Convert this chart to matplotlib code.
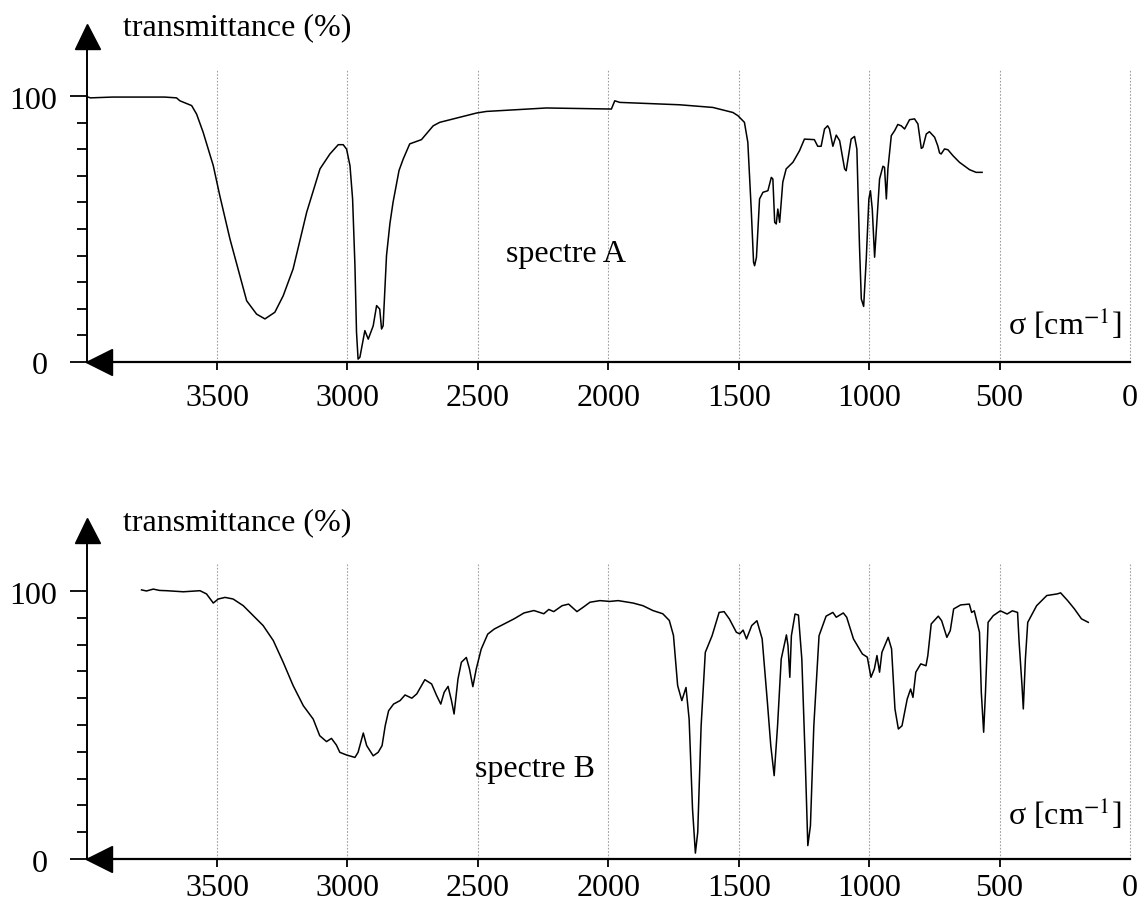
import matplotlib
matplotlib.use("Agg")
import matplotlib.pyplot as plt

plt.rcParams['font.family'] = ['Liberation Serif', 'DejaVu Serif']
plt.rcParams['mathtext.fontset'] = 'stix'

# spectre A : nombre d'onde (cm-1), transmittance (%)
wn_a = [4000, 3985, 3900, 3800, 3700, 3655, 3642, 3597, 3578, 3553, 3514, 3489, 3450,
        3412, 3386, 3348, 3316, 3278, 3246, 3208, 3156, 3105, 3067, 3035, 3016, 3003,
        2990, 2980, 2971, 2965, 2959, 2952, 2933, 2920, 2901, 2888, 2876, 2869, 2863,
        2850, 2837, 2825, 2802, 2786, 2761, 2716, 2671, 2646, 2505, 2467, 2237, 2007,
        1988, 1975, 1956, 1854, 1726, 1599, 1522, 1503, 1484, 1478, 1465, 1452, 1443,
        1439, 1432, 1420, 1407, 1388, 1375, 1369, 1362, 1356, 1350, 1343, 1331, 1318,
        1292, 1267, 1248, 1210, 1197, 1184, 1171, 1159, 1152, 1139, 1126, 1113, 1094,
        1088, 1069, 1056, 1047, 1037, 1030, 1021, 1011, 1001, 995, 988, 979, 973, 960,
        947, 941, 934, 928, 915, 902, 890, 877, 864, 845, 826, 813, 800, 794, 781, 769,
        749, 737, 730, 724, 711, 698, 679, 654, 615, 590, 567]
t_a = [99.8, 99.3, 99.6, 99.6, 99.6, 99.3, 98.2, 96.4, 93.2, 86.4, 73.8, 62.5, 46.2,
       32.4, 23.0, 18.0, 16.2, 18.7, 24.9, 35.0, 56.3, 72.6, 78.2, 81.7, 81.7, 80.0,
       73.8, 61.3, 36.2, 11.2, 1.1, 1.8, 11.8, 8.6, 13.6, 21.2, 19.9, 12.4, 13.6,
       40.0, 52.0, 60.0, 72.0, 76.3, 82.0, 83.6, 88.8, 90.1, 93.6, 94.2, 95.5, 95.1,
       95.1, 98.2, 97.6, 97.2, 96.7, 95.7, 93.8, 92.6, 90.7, 90.1, 82.6, 57.5, 37.5,
       36.2, 39.3, 61.3, 63.8, 64.4, 69.4, 68.8, 52.5, 51.9, 57.5, 52.5, 67.6, 72.6,
       75.1, 79.4, 83.8, 83.6, 81.1, 81.1, 87.6, 88.8, 87.6, 81.1, 85.3, 83.2, 72.6,
       71.9, 83.8, 84.8, 80.1, 43.7, 23.7, 20.9, 38.7, 61.3, 64.4, 57.5, 39.4, 48.8, 68.8,
       73.6, 73.2, 61.3, 72.6, 85.1, 87.0, 89.3, 88.8, 87.6, 91.1, 91.4, 89.5, 80.3, 80.7, 85.7, 86.6,
       84.5, 81.3, 78.6, 78.2, 80.1, 79.8, 77.6, 75.1, 72.3, 71.3, 71.3]

# spectre B
wn_b = [3789, 3770, 3744, 3720, 3693, 3629, 3565, 3540, 3514, 3495, 3469, 3438, 3399,
        3367, 3323, 3284, 3246, 3208, 3169, 3131, 3106, 3080, 3061, 3042, 3029, 3003,
        2971, 2959, 2939, 2926, 2901, 2882, 2867, 2855, 2842, 2823, 2798, 2779, 2753,
        2734, 2703, 2677, 2658, 2642, 2629, 2614, 2601, 2591, 2576, 2563, 2544, 2532,
        2519, 2506, 2487, 2462, 2437, 2399, 2361, 2323, 2285, 2247, 2228, 2209, 2177,
        2152, 2120, 2095, 2070, 2032, 1994, 1962, 1905, 1867, 1829, 1791, 1766, 1750,
        1734, 1718, 1702, 1690, 1677, 1666, 1657, 1644, 1628, 1602, 1575, 1556, 1536,
        1509, 1496, 1483, 1470, 1450, 1430, 1410, 1390, 1377, 1364, 1351, 1337, 1317,
        1311, 1304, 1298, 1284, 1271, 1258, 1245, 1235, 1225, 1212, 1192, 1165, 1139,
        1126, 1099, 1086, 1060, 1026, 1007, 993, 980, 970, 960, 951, 927, 914, 901, 888,
        874, 854, 841, 832, 821, 802, 782, 775, 762, 735, 722, 702, 689, 676, 649, 616,
        607, 597, 577, 570, 561, 554, 544, 524, 497, 471, 451, 431, 425, 414, 409, 401,
        392, 358, 319, 279, 266, 239, 213, 186, 160]
t_b = [100.4, 100.0, 100.7, 100.2, 100.1, 99.7, 100.1, 98.9, 95.5, 97.0, 97.6, 97.0, 94.5,
       91.4, 87.1, 81.5, 73.4, 64.7, 57.2, 52.2, 46.0, 43.8, 45.0, 42.5, 39.8, 38.8,
       37.9, 39.8, 47.0, 42.3, 38.5, 39.8, 42.3, 49.7, 55.3, 57.8, 59.1, 61.2, 60.0,
       61.6, 66.9, 65.3, 61.0, 57.8, 62.2, 64.4, 59.1, 54.1, 67.2, 73.4, 75.2, 70.9,
       64.3, 70.9, 78.3, 83.9, 85.8, 87.7, 89.6, 91.8, 92.7, 91.5, 93.1, 92.3, 94.5,
       95.1, 92.3, 94.0, 95.8, 96.4, 96.1, 96.4, 95.5, 94.5, 92.7, 91.5, 89.0, 83.4,
       64.7, 59.1, 64.0, 52.2, 18.7, 2.2, 10.0, 49.7, 77.1, 83.3, 92.0, 92.3, 89.6,
       84.6, 84.0, 85.4, 82.1, 87.1, 88.9, 82.1, 58.5, 42.3, 31.1, 49.7, 74.6, 83.6,
       79.6, 67.8, 83.3, 91.4, 91.0, 74.6, 37.3, 5.0, 12.4, 49.7, 83.3, 90.6, 92.0,
       90.2, 91.8, 90.2, 82.1, 76.5, 75.3, 67.8, 70.9, 75.9, 69.7, 77.1, 82.7, 78.4, 56.0, 48.5,
       49.7, 59.7, 63.4, 60.3, 69.7, 72.8, 72.1, 75.9, 87.7, 90.6, 88.9, 82.7, 85.2, 93.3, 94.8, 95.1,
       92.0, 92.6, 84.6, 62.2, 47.3, 62.2, 88.3, 90.8, 92.6, 91.4, 92.6, 92.0, 80.8, 64.7, 56.0, 74.6,
       88.3, 94.5, 98.3, 98.9, 99.3, 96.4, 93.3, 89.6, 88.3]

x_ticks = [3500, 3000, 2500, 2000, 1500, 1000, 500, 0]
x_labels = ['3500', '3000', '2500', '2000', '1500', '1000', '500', '0']
grid_x = [3500, 3000, 2500, 2000, 1500, 1000, 500, 0]

fig = plt.figure(figsize=(11.4, 9.04), dpi=100)


def draw_panel(rect, wn, t, name, name_pos, sigma_y, label_pad):
    ax = fig.add_axes(rect)
    ax.set_xlim(4000, 0)
    ax.set_ylim(0, 127)
    ax.patch.set_visible(False)
    for s in ['top', 'right']:
        ax.spines[s].set_visible(False)
    ax.spines['left'].set_bounds(0, 119)
    ax.spines['left'].set_linewidth(1.4)
    ax.spines['bottom'].set_linewidth(1.6)

    ax.vlines(grid_x, 0, 110, colors='#a0a0a0', linestyles=(0, (1.5, 1.5)),
              linewidth=0.8, clip_on=False, zorder=1)
    ax.plot(wn, t, color='black', linewidth=1.1, zorder=3)

    ax.set_xticks(x_ticks, x_labels, fontsize=23)
    ax.tick_params(axis='x', direction='out', length=6, width=1.3, pad=label_pad)
    ax.xaxis.get_major_ticks()[-1].tick1line.set_visible(False)

    ax.set_yticks([0, 100], [])
    ax.set_yticks(range(10, 100, 10), minor=True)
    ax.tick_params(axis='y', which='major', direction='out', length=12.5, width=1.3)
    ax.tick_params(axis='y', which='minor', direction='out', length=7.5, width=1.3)
    ax.text(4113, 95.5, '100', fontsize=23, ha='right', va='baseline')
    ax.text(4147, -4.3, '0', fontsize=23, ha='right', va='baseline')

    # fleches des axes
    ax.plot([4000], [122.6], marker='^', markersize=18, color='black',
            clip_on=False, zorder=5)
    ax.plot([3951], [0], marker='<', markersize=19, color='black',
            clip_on=False, zorder=5)

    ax.text(3860, 126, 'transmittance (%)', fontsize=23, ha='left', va='center')
    ax.text(name_pos[0], name_pos[1], name, fontsize=23, ha='left', va='baseline')
    ax.text(33, sigma_y, r'σ [cm$^{-1}$]', fontsize=23, ha='right', va='baseline')
    return ax


draw_panel([0.07588, 0.59845, 0.91535, 0.37369], wn_a, t_a, 'spectre A',
           (2393, 38.1), 10.5, 9)
draw_panel([0.07588, 0.04867, 0.91535, 0.37655], wn_b, t_b, 'spectre B',
           (2512, 31.1), 13.0, 4)

plt.savefig('out.png', dpi=100)
